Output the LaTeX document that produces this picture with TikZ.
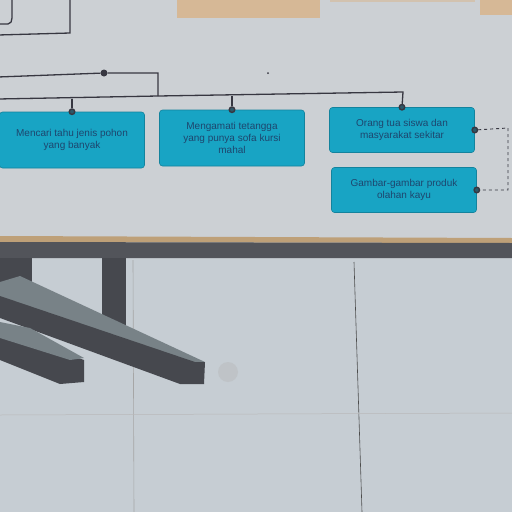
\documentclass[tikz,border=0pt]{standalone}
\usepackage{fontspec}
\setmainfont{Liberation Sans}
\definecolor{board}{RGB}{204,208,212}
\definecolor{wall}{RGB}{198,205,211}
\definecolor{shelf}{RGB}{82,84,90}
\definecolor{edge}{RGB}{190,160,120}
\definecolor{leg}{RGB}{70,72,78}
\definecolor{legface}{RGB}{120,130,135}
\definecolor{cyanbox}{RGB}{24,164,196}
\definecolor{boxtext}{RGB}{30,70,110}
\definecolor{tan}{RGB}{214,184,150}
\definecolor{wire}{RGB}{55,55,65}
\tikzset{
  card/.style={draw=cyanbox!80!black, fill=cyanbox, rounded corners=3pt, line width=0.6pt,
    minimum width=145pt, align=center, text=boxtext, font=\fontsize{10}{12}\selectfont, inner sep=2pt},
  wireline/.style={draw=wire, line width=1.3pt},
  dashwire/.style={draw=wire, line width=0.9pt, dashed},
  port/.style={circle, draw=wire, fill=cyanbox!30!wire, line width=1.4pt, minimum size=5.5pt, inner sep=0pt},
  dotnode/.style={circle, fill=wire, minimum size=7pt, inner sep=0pt},
}
\begin{document}
\begin{tikzpicture}[x=1pt,y=-1pt]
\useasboundingbox (0,0) rectangle (512,512);
% board
\fill[board] (0,0) rectangle (512,242);
% wall below
\fill[wall] (0,242) rectangle (512,512);
% top elements
\fill[tan] (177,0) rectangle (320,18);
\fill[tan!60!board] (330,0) rectangle (475,2);
\fill[tan] (480,0) rectangle (512,15);
\draw[wireline] (-2,24) -- (8,24) to[out=0,in=-90] (12,18) -- (12,-2);
\draw[wireline] (70,-2) -- (70,33) -- (-2,35);
% tree connectors
\node[dotnode] (jn) at (104,73) {};
\coordinate (L1) at (-2,77);
\coordinate (T1) at (158,73);
\coordinate (T2) at (158,96);
\coordinate (L2) at (-2,99);
\coordinate (T3) at (403,92);
\fill[wire] (268,73) circle (1pt);
% cards
\node[card, minimum height=56pt] (c1) at (72,140) {Mencari tahu jenis pohon\\yang banyak};
\node[card, minimum height=56pt] (c2) at (232,138) {Mengamati tetangga\\yang punya sofa kursi\\mahal};
\node[card, minimum height=45pt] (c3) at (402,130) {Orang tua siswa dan\\masyarakat sekitar};
\node[card, minimum height=45pt] (c4) at (404,190) {Gambar-gambar produk\\olahan kayu};
% ports
\node[port] (p1) at (c1.north) {};
\node[port] (p2) at (c2.north) {};
\node[port] (p3) at (c3.north) {};
\node[port] (p3r) at (c3.east) {};
\node[port] (p4r) at (c4.east) {};
\draw[wireline] (L1) -- (jn) -- (T1) -- (T2);
\draw[wireline] (L2) -- (T2) -- (T3) -- (p3);
\draw[wireline] (p1) -- (p1 |- 0,98.5);
\draw[wireline] (p2) -- (p2 |- 0,95.5);
\draw[dashwire] (p3r) -- (508,128) -- (508,190) -- (p4r);
% shelf
\fill[edge] (0,236) -- (512,238) -- (512,243) -- (0,242) -- cycle;
\fill[shelf] (0,242) -- (512,243) -- (512,258) -- (0,258) -- cycle;
% wall seams
\draw[gray!70, line width=0.6pt] (133,260) -- (134,512);
\draw[black!70, line width=0.6pt] (354,262) -- (362,512);
\draw[gray!55, line width=0.5pt] (0,415) -- (512,413);
% smudge
\fill[black!30, opacity=0.35] (228,372) circle (10pt);
% legs
\fill[leg] (102,258) rectangle (126,325);
\fill[leg] (0,258) rectangle (32,282);
\fill[legface] (0,282) -- (20,276) -- (205,362) -- (195,367) -- (0,300) -- cycle;
\fill[leg] (0,296) -- (195,362) -- (205,362) -- (204,384) -- (180,384) -- (0,318) -- cycle;
\fill[leg] (0,330) -- (40,345) -- (84,360) -- (84,382) -- (60,384) -- (0,360) -- cycle;
\fill[legface] (0,322) -- (30,328) -- (84,358) -- (70,360) -- (0,338) -- cycle;
\end{tikzpicture}
\end{document}
